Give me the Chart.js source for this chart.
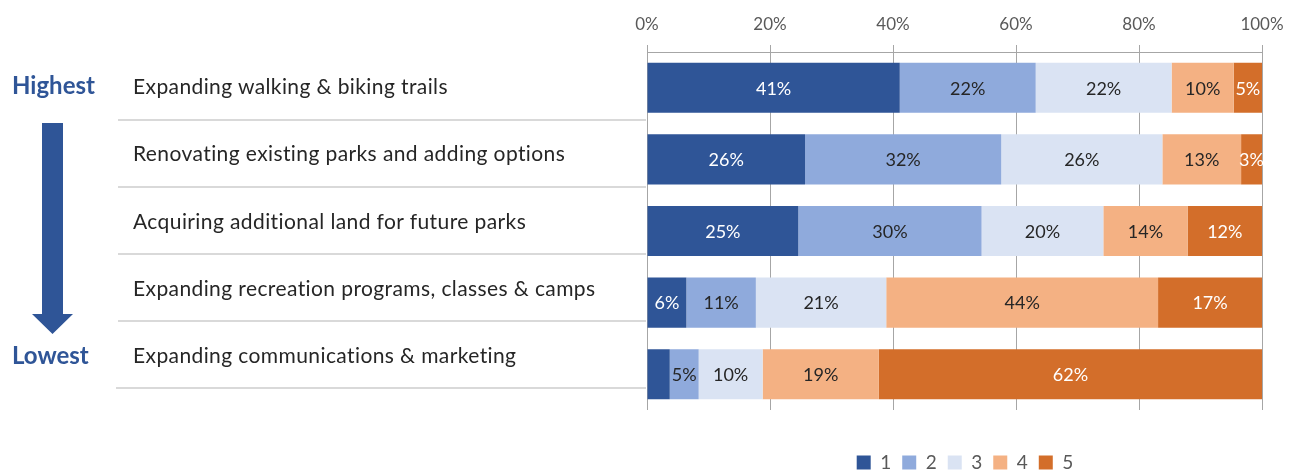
<!DOCTYPE html>
<html>
<head>
<meta charset="utf-8">
<script src="https://cdn.jsdelivr.net/npm/chart.js@4/dist/chart.umd.min.js"></script>
<style>
  html, body { margin: 0; padding: 0; background: #ffffff; overflow: hidden; width: 1301px; height: 474px; }
  #wrap { position: absolute; left: 0; top: 0; width: 1301px; height: 482px; }
  #left { position: absolute; left: 0; top: 0; width: 660px; height: 474px; z-index: 2; pointer-events: none; font-family: Lato, "Open Sans", sans-serif; }
  .cat { position: absolute; left: 133px; font-size: 21px; letter-spacing: 0.4px; line-height: 1.2; color: #262626; white-space: nowrap; }
  .sep { position: absolute; height: 2px; background: #D9D9D9; }
  .rank { position: absolute; left: 12px; font-size: 24px; font-weight: bold; line-height: 1.2; color: #2F5597; }
  svg { position: absolute; left: 0; top: 0; }
</style>
</head>
<body>
<div id="wrap"><canvas id="c"></canvas></div>
<div id="left">
  <div class="rank" style="top:71px">Highest</div>
  <div class="rank" style="top:341px">Lowest</div>
  <svg width="120" height="400"><polygon points="42,123 63,123 63,314 73,314 52.5,334 32,314 42,314" fill="#2F5597"/></svg>
</div>
<script>
// ---- data ----
const categories = [
  "Expanding walking & biking trails",
  "Renovating existing parks and adding options",
  "Acquiring additional land for future parks",
  "Expanding recreation programs, classes & camps",
  "Expanding communications & marketing"
];
const seriesNames = ["1", "2", "3", "4", "5"];
const rank1 = [41.1, 25.7, 24.6, 6.4, 3.7];
const rank2 = [22.1, 31.9, 29.8, 11.3, 4.7];
const rank3 = [22.1, 26.2, 19.8, 21.2, 10.4];
const rank4 = [10.1, 12.8, 13.7, 44.2, 18.9];
const rank5 = [4.6, 3.4, 12.1, 16.9, 62.3];
const xTicks = [0, 20, 40, 60, 80, 100];
// labels not shown in the reference: [seriesIndex, categoryIndex]
const hiddenLabels = [[0, 4]];

const colors = ["#2F5597", "#8FAADC", "#DAE3F3", "#F4B183", "#D36E2A"];
const labelColors = ["#FFFFFF", "#262626", "#262626", "#262626", "#FFFFFF"];
const FONT = "Lato, 'Open Sans', sans-serif";

// ---- left table ----
const left = document.getElementById('left');
const catFont = 21;
categories.forEach((c, i) => {
  const d = document.createElement('div');
  d.className = 'cat';
  d.textContent = c;
  d.style.top = (86 + 67.4 * i - 0.629 * catFont) + 'px';
  left.appendChild(d);
  const s = document.createElement('div');
  s.className = 'sep';
  s.style.left = (i === 4 ? 116 : 118) + 'px';
  s.style.width = (646 - (i === 4 ? 116 : 118)) + 'px';
  s.style.top = (118.5 + 67.2 * i) + 'px';
  left.appendChild(s);
});

// ---- chart ----
const seriesData = [rank1, rank2, rank3, rank4, rank5];
const datasets = seriesData.map((d, i) => ({
  label: seriesNames[i],
  data: d,
  backgroundColor: colors[i],
  borderWidth: 0,
  barPercentage: 0.7,
  categoryPercentage: 1.0
}));

const labelPlugin = {
  id: 'barLabels',
  afterDatasetsDraw(chart) {
    const ctx = chart.ctx;
    ctx.save();
    ctx.font = "18px " + FONT;
    ctx.textAlign = 'center';
    ctx.textBaseline = 'middle';
    chart.data.datasets.forEach((ds, di) => {
      const meta = chart.getDatasetMeta(di);
      meta.data.forEach((bar, ci) => {
        if (hiddenLabels.some(h => h[0] === di && h[1] === ci)) return;
        const v = ds.data[ci];
        const x = (bar.x + bar.base) / 2;
        ctx.fillStyle = labelColors[di];
        ctx.fillText(Math.round(v) + '%', x, bar.y + 1);
      });
    });
    ctx.restore();
  }
};

new Chart(document.getElementById('c'), {
  type: 'bar',
  data: { labels: categories, datasets },
  plugins: [labelPlugin],
  options: {
    indexAxis: 'y',
    responsive: true,
    maintainAspectRatio: false,
    animation: false,
    layout: { padding: { left: 647, right: 18, top: 0, bottom: 0 } },
    plugins: {
      tooltip: { enabled: false },
      legend: {
        position: 'bottom',
        labels: {
          boxWidth: 14, boxHeight: 14, padding: 11,
          color: '#595959',
          font: { family: FONT, size: 19 }
        }
      }
    },
    scales: {
      x: {
        position: 'top',
        stacked: true,
        min: 0, max: 100,
        afterBuildTicks: s => { s.ticks = xTicks.map(v => ({ value: v })); },
        ticks: {
          callback: v => v + '%',
          color: '#595959',
          font: { family: FONT, size: 17 },
          padding: 10,
          maxRotation: 0
        },
        grid: { color: '#A6A6A6', lineWidth: 1, tickLength: 7, drawTicks: true },
        border: { display: true, color: '#A6A6A6', width: 1 },
        afterFit: s => { s.height = 52; }
      },
      y: {
        position: 'right',
        stacked: true,
        ticks: { display: false },
        grid: { display: false },
        border: { display: false },
        afterFit: s => { s.width = 21; }
      },
      x2: {
        type: 'linear',
        axis: 'x',
        position: 'bottom',
        display: true,
        ticks: { display: false },
        grid: { display: false },
        border: { display: false },
        afterFit: s => { s.height = 32; }
      }
    }
  }
});
</script>
</body>
</html>
